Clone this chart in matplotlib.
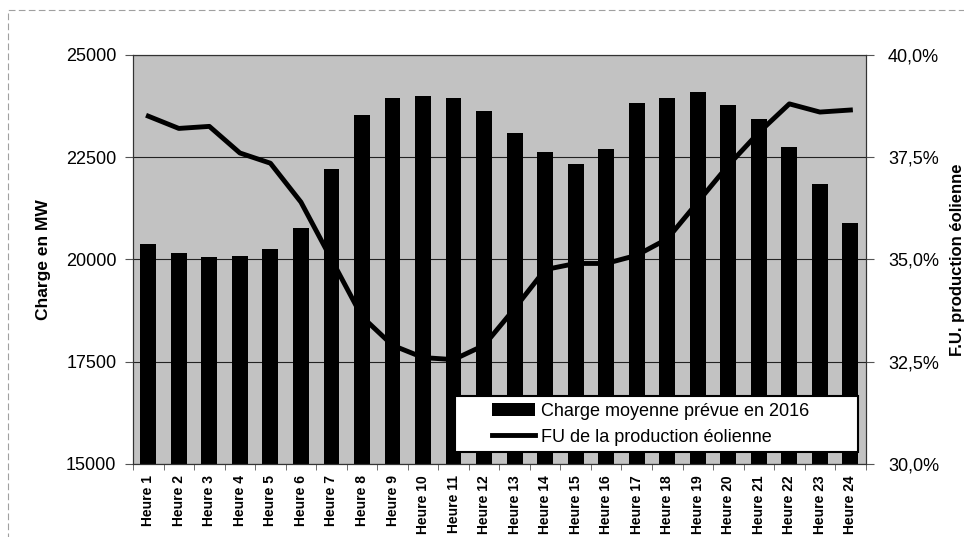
import matplotlib.pyplot as plt
from matplotlib.patches import Rectangle
from matplotlib.ticker import FuncFormatter, FixedLocator
import numpy as np

hours = [f"Heure {i}" for i in range(1, 25)]
charge_mw = [20380, 20160, 20060, 20090, 20250, 20770, 22210, 23530, 23950, 24000,
             23950, 23630, 23100, 22630, 22340, 22700, 23830, 23950, 24100, 23780,
             23440, 22750, 21850, 20900]
fu_eolien = [38.5, 38.2, 38.25, 37.6, 37.35, 36.4, 35.0, 33.6, 32.9, 32.6,
             32.55, 32.9, 33.8, 34.75, 34.9, 34.9, 35.1, 35.5, 36.4, 37.3,
             38.1, 38.8, 38.6, 38.65]

plt.rcParams['font.family'] = ['Liberation Sans', 'DejaVu Sans']

fig = plt.figure(figsize=(9.64, 5.37), dpi=100)
ax = fig.add_axes([0.138, 0.136, 0.760, 0.762])
ax2 = ax.twinx()

# dashed chart-area border (only top and left visible in the scan)
fig.patches.append(Rectangle((0.008, -0.2), 1.2, 1.181, transform=fig.transFigure,
                             fill=False, ec='#a0a0a0', lw=0.8, ls=(0, (6, 3))))

x = np.arange(len(hours))
ax.set_facecolor('#c2c2c2')
bars = ax.bar(x, charge_mw, width=0.52, color='black', zorder=2,
              label='Charge moyenne prévue en 2016')
line, = ax2.plot(x, fu_eolien, color='black', lw=3.5, solid_joinstyle='round',
                 label='FU de la production éolienne')

ax.set_xlim(-0.5, 23.5)
ax.set_ylim(15000, 25000)
ax.set_yticks([15000, 17500, 20000, 22500, 25000])
ax.yaxis.grid(True, color='#222222', lw=0.8, zorder=1)
ax.set_axisbelow(True)
ax2.set_ylim(30, 40)
ax2.set_yticks([30, 32.5, 35, 37.5, 40])
ax2.yaxis.set_major_formatter(FuncFormatter(lambda v, p: f"{v:.1f}%".replace('.', ',')))

ax.set_xticks(x)
ax.set_xticklabels(hours, rotation=90, fontsize=10, fontweight='bold')
ax.tick_params(axis='x', length=0, pad=8)
ax.xaxis.set_minor_locator(FixedLocator(np.arange(-0.5, 24, 1)))
ax.tick_params(axis='x', which='minor', length=4, color='#555555')
ax.tick_params(axis='y', labelsize=13, length=6, pad=6, color='#555555')
ax2.tick_params(axis='y', labelsize=13, length=6, pad=10, color='#555555')

ax.set_ylabel('Charge en MW', fontsize=12.5, fontweight='bold', labelpad=11)
ax2.set_ylabel('F.U. production éolienne', fontsize=12, fontweight='bold', labelpad=8)

for a in (ax, ax2):
    for s in a.spines.values():
        s.set_color('#333333')
        s.set_linewidth(0.8)

# legend box drawn by hand, entries placed inside it
ax2.add_patch(Rectangle((0.44, 0.03), 0.55, 0.135, transform=ax2.transAxes,
                        facecolor='white', edgecolor='black', lw=1.5, zorder=5))
leg = ax2.legend([bars, line], [bars.get_label(), line.get_label()],
                 loc='upper left', bbox_to_anchor=(0.49, 0.15),
                 fontsize=13, frameon=False, borderpad=0, borderaxespad=0,
                 labelspacing=0.5, handlelength=2.4, handletextpad=0.3)
leg.set_zorder(6)

fig.savefig('out.png', dpi=100)
